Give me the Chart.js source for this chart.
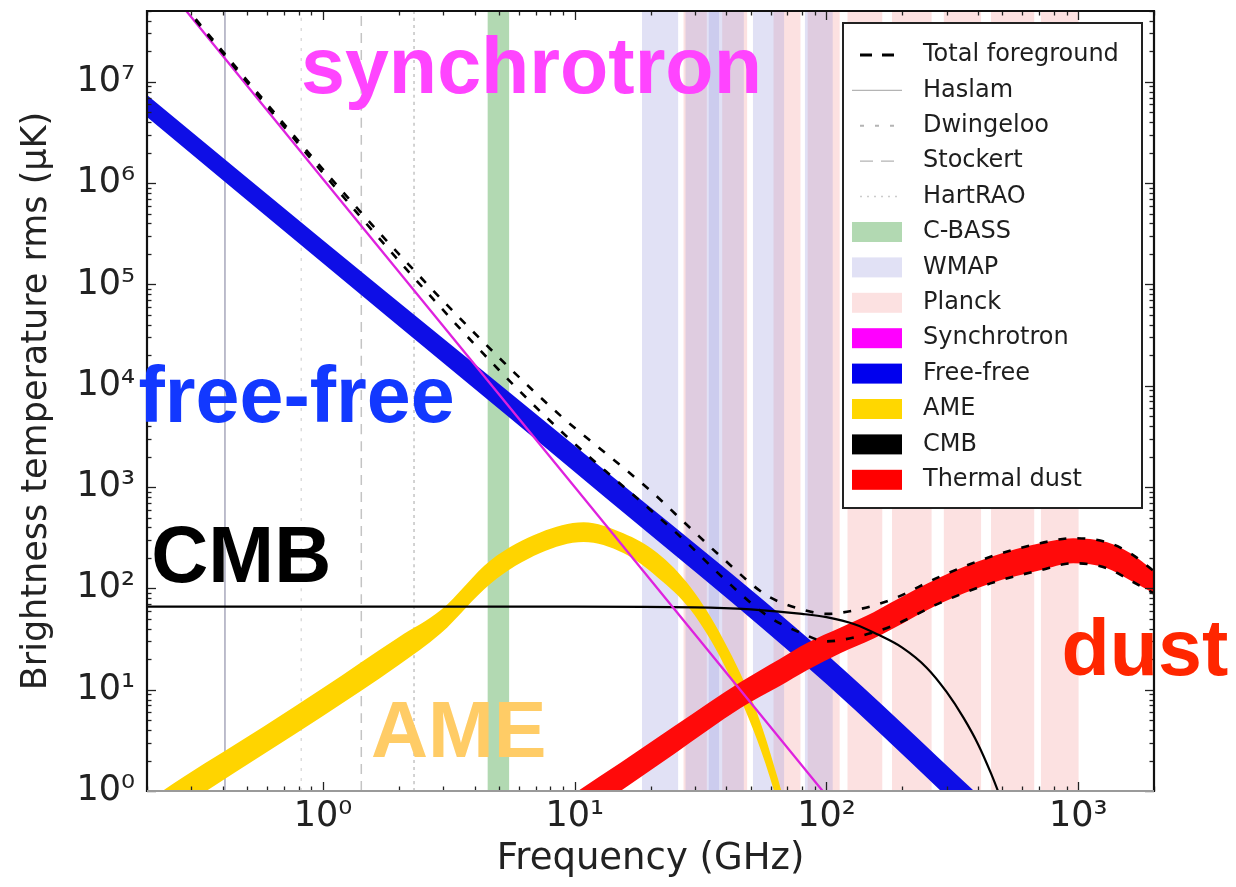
<!DOCTYPE html>
<html>
<head>
<meta charset="utf-8">
<script src="https://cdn.jsdelivr.net/npm/chart.js@4.4.1/dist/chart.umd.min.js"></script>
<style>
  html, body { margin: 0; padding: 0; background: #fff; }
  canvas { display: block; }
</style>
</head>
<body>
<canvas id="chart" width="1236" height="887"></canvas>
<script>
// ---- axes ----
const X_MIN = 0.2, X_MAX = 2000;          // GHz
const Y_MIN = 1, Y_MAX = 5e7;             // microkelvin
const X_TICKS = [1, 10, 100, 1000];
const Y_TICKS = [1, 10, 100, 1e3, 1e4, 1e5, 1e6, 1e7];

// ---- radio surveys (GHz) ----
const surveyNames = ['Haslam', 'Dwingeloo', 'Stockert', 'HartRAO'];
const surveyFreq = [0.408, 0.82, 1.42, 2.3];
const cbassBand = [4.5, 5.5];
const wmapBands = [[18.5, 25.8], [27.5, 37.5], [34, 47], [51, 68], [82, 106]];
const planckBands = [[27, 33.5], [38.5, 48.5], [61.5, 79], [84, 113], [121, 167],
                     [182, 262], [292, 412], [450, 670], [710, 1005]];

// ---- foreground components: rms brightness temperature (uK) ----
const syncFreq = [0.2, 1, 10, 100];
const syncT = [1.5e8, 1.1e6, 1000, 0.9];

const ffFreq = [0.2, 1, 10, 100, 400];
const ffHigh = [7.4e6, 2.73e5, 2560, 22.4, 0.92];
const ffLow = [4.5e6, 1.62e5, 1410, 11.4, 0.45];

const ameFreq = [0.2, 0.28, 0.58, 1, 2, 2.94, 4.64, 7.3, 10.85, 15.6, 21.3, 28.9, 39, 53, 64, 75];
const ameHigh = [0.79, 1.38, 4.3, 10.4, 33, 61, 190, 357, 450, 350, 223, 102, 31, 5.9, 1.35, 0.3];
const ameLow = [0.42, 0.72, 2.3, 5.5, 17.5, 36, 112, 223, 287, 223, 129, 61, 18, 3.2, 0.75, 0.15];

const cmbFreq = [0.2, 10, 30, 50, 80, 100, 130, 160, 200, 250, 300, 350, 400, 450, 500];
const cmbT = [66, 66, 65, 62, 56, 52, 44, 35, 26, 16.5, 9.5, 5.3, 2.9, 1.5, 0.77];

const dustFreq = [8, 10.3, 15.2, 25, 45.6, 65, 84, 114, 154, 180, 283, 448, 706, 955, 1303, 1607, 2000];
const dustHigh = [0.65, 1.0, 1.9, 4.4, 11.9, 20, 29, 41, 58, 72, 129, 204, 279, 313, 285, 223, 148];
const dustLow = [0.33, 0.51, 1.0, 2.35, 6.6, 10.8, 15.6, 23, 32, 39, 71, 112, 151, 177, 158, 120, 89];

const totFreq = [0.2, 0.5, 1, 2, 5, 9, 13.3, 20, 28, 39, 58, 80, 100, 130, 180, 283, 448, 706, 955, 1303, 1607, 2000];
const totHigh = [1.57e8, 1.03e7, 1.37e6, 2.0e5, 1.9e4, 4800, 2150, 920, 420, 195, 85, 62, 56, 61, 77, 131, 205, 279, 313, 285, 223, 148];
const totLow = [1.545e8, 9.85e6, 1.26e6, 1.72e5, 1.43e4, 3400, 1430, 595, 280, 126, 54, 36, 30, 33, 42, 72, 112, 151, 177, 158, 120, 89];

// ---- big component captions: text, anchor frequency (GHz), anchor temperature (uK) ----
const captionText = ['synchrotron', 'free-free', 'CMB', 'AME', 'dust'];
const captionFreq = [0.818, 0.185, 0.208, 1.55, 859];
const captionTemp = [7.8e6, 4350, 115, 2.16, 13.9];
const captionColor = ['#ff44ff', '#1238ff', '#000000', '#ffcc66', '#ff2600'];

// ---- colours ----
const WMAP_FILL = 'rgba(155,155,222,0.3)';
const PLANCK_FILL = 'rgba(245,155,155,0.3)';
const CBASS_FILL = 'rgba(0,128,0,0.3)';
const SYNC_COLOR = '#de22de';
const FF_COLOR = '#0e0ee6';
const AME_COLOR = '#ffd400';
const DUST_COLOR = '#ff0a0a';
const surveyStyle = [
  { color: 'rgba(120,120,150,0.65)', width: 1.5, dash: [] },
  { color: '#dcdcdc', width: 1.5, dash: [3, 7] },
  { color: '#c4c4c4', width: 1.5, dash: [10, 7] },
  { color: '#c4c4c4', width: 1.5, dash: [3, 4] }
];

const legendItems = [
  { label: 'Total foreground', line: { color: '#000', width: 3, dash: [12, 10] } },
  { label: 'Haslam', line: { color: '#b4b4b4', width: 1.2, dash: [] } },
  { label: 'Dwingeloo', line: { color: '#b4b4b4', width: 2, dash: [4, 11] } },
  { label: 'Stockert', line: { color: '#b4b4b4', width: 1.2, dash: [13, 8] } },
  { label: 'HartRAO', line: { color: '#cccccc', width: 1.5, dash: [2, 5] } },
  { label: 'C-BASS', patch: CBASS_FILL },
  { label: 'WMAP', patch: WMAP_FILL },
  { label: 'Planck', patch: PLANCK_FILL },
  { label: 'Synchrotron', patch: '#ff00ff' },
  { label: 'Free-free', patch: '#0000ee' },
  { label: 'AME', patch: '#ffd700' },
  { label: 'CMB', patch: '#000000' },
  { label: 'Thermal dust', patch: '#ff0000' }
];

// ---- helpers ----
const pts = (xs, ys) => xs.map((x, i) => ({ x, y: ys[i] }));
const SUP = '⁰¹²³⁴⁵⁶⁷⁸⁹';
const powerLabel = v => '10' + String(Math.round(Math.log10(v))).split('').map(c => SUP[+c]).join('');

const datasets = [];

function spanSet(label, lo, hi, color) {
  datasets.push({ label, data: [{ x: lo, y: Y_MAX }, { x: hi, y: Y_MAX }],
    fill: 'start', backgroundColor: color, borderWidth: 0, order: 100 });
}
function rangeSet(label, xs, hi, lo, color, order) {
  datasets.push({ label, data: pts(xs, hi), fill: '+1', backgroundColor: color,
    borderWidth: 0, order });
  datasets.push({ label: label + ' lower', data: pts(xs, lo), fill: false,
    borderWidth: 0, order });
}

wmapBands.forEach(b => spanSet('WMAP', b[0], b[1], WMAP_FILL));
planckBands.forEach(b => spanSet('Planck', b[0], b[1], PLANCK_FILL));
spanSet('C-BASS', cbassBand[0], cbassBand[1], CBASS_FILL);

surveyFreq.forEach((f, i) => {
  datasets.push({ label: surveyNames[i], data: [{ x: f, y: Y_MIN }, { x: f, y: Y_MAX }],
    borderColor: surveyStyle[i].color, borderWidth: surveyStyle[i].width,
    borderDash: surveyStyle[i].dash, fill: false, order: 90 });
});

rangeSet('Free-free', ffFreq, ffHigh, ffLow, FF_COLOR, 6);
rangeSet('AME', ameFreq, ameHigh, ameLow, AME_COLOR, 5);
rangeSet('Thermal dust', dustFreq, dustHigh, dustLow, DUST_COLOR, 4);

datasets.push({ label: 'CMB', data: pts(cmbFreq, cmbT), borderColor: '#000',
  borderWidth: 2.2, fill: false, order: 3 });
datasets.push({ label: 'Synchrotron', data: pts(syncFreq, syncT), borderColor: SYNC_COLOR,
  borderWidth: 2.3, fill: false, order: 2 });
datasets.push({ label: 'Total foreground', data: pts(totFreq, totHigh), borderColor: '#000',
  borderWidth: 2.6, borderDash: [8, 11], fill: false, order: 1 });
datasets.push({ label: 'Total foreground lower', data: pts(totFreq, totLow), borderColor: '#000',
  borderWidth: 2.6, borderDash: [8, 11], fill: false, order: 1 });

// inward ticks on all four sides plus the frame
const frameTicks = {
  id: 'frameTicks',
  afterDatasetsDraw(chart) {
    const { ctx, chartArea: a, scales: { x, y } } = chart;
    const seg = (x1, y1, x2, y2) => { ctx.beginPath(); ctx.moveTo(x1, y1); ctx.lineTo(x2, y2); ctx.stroke(); };
    ctx.save();
    ctx.strokeStyle = '#222';
    ctx.lineWidth = 1.3;
    for (let e = -1; e <= 3; e++) {
      for (let m = 1; m <= 9; m++) {
        const v = m * Math.pow(10, e);
        if (v < X_MIN || v > X_MAX) continue;
        const p = Math.round(x.getPixelForValue(v)) + 0.5;
        const len = m === 1 ? 9 : 4.5;
        seg(p, a.bottom, p, a.bottom - len);
        seg(p, a.top, p, a.top + len);
      }
    }
    for (let e = 0; e <= 7; e++) {
      for (let m = 1; m <= 9; m++) {
        const v = m * Math.pow(10, e);
        if (v < Y_MIN || v > Y_MAX) continue;
        const p = Math.round(y.getPixelForValue(v)) + 0.5;
        const len = m === 1 ? 9 : 4.5;
        seg(a.left, p, a.left + len, p);
        seg(a.right, p, a.right - len, p);
      }
    }
    ctx.lineWidth = 2.2;
    ctx.strokeStyle = '#111';
    seg(a.left, a.top, a.right, a.top);
    seg(a.left, a.top - 1, a.left, a.bottom + 1);
    seg(a.right, a.top - 1, a.right, a.bottom + 1);
    ctx.strokeStyle = '#9a9a9a';
    seg(a.left, a.bottom, a.right, a.bottom);
    ctx.restore();
  }
};

// legend box in the upper right of the plot, then the big captions
const legendAndCaptions = {
  id: 'legendAndCaptions',
  afterDraw(chart) {
    const { ctx, chartArea: a, scales: { x, y } } = chart;
    ctx.save();
    const bw = 299, bh = 485;
    const bx = a.right - 12 - bw, by = a.top + 12;
    ctx.fillStyle = '#fff';
    ctx.fillRect(bx, by, bw, bh);
    ctx.strokeStyle = '#222';
    ctx.lineWidth = 2;
    ctx.strokeRect(bx, by, bw, bh);
    ctx.font = "24px 'DejaVu Sans'";
    ctx.textBaseline = 'middle';
    ctx.textAlign = 'left';
    legendItems.forEach((it, i) => {
      const cy = by + 32 + i * 35.4;
      if (it.patch) {
        ctx.fillStyle = it.patch;
        ctx.fillRect(bx + 9, cy - 10, 50, 20);
      } else {
        ctx.strokeStyle = it.line.color;
        ctx.lineWidth = it.line.width;
        ctx.setLineDash(it.line.dash);
        ctx.beginPath();
        ctx.moveTo(bx + (it.line.dash.length ? 17 : 9), cy);
        ctx.lineTo(bx + 59, cy);
        ctx.stroke();
        ctx.setLineDash([]);
      }
      ctx.fillStyle = '#1e1e1e';
      ctx.fillText(it.label, bx + 80, cy);
    });

    ctx.font = "bold 79px 'Liberation Sans'";
    ctx.textBaseline = 'alphabetic';
    captionText.forEach((t, i) => {
      ctx.fillStyle = captionColor[i];
      ctx.fillText(t, x.getPixelForValue(captionFreq[i]), y.getPixelForValue(captionTemp[i]));
    });
    ctx.restore();
  }
};

new Chart(document.getElementById('chart'), {
  type: 'line',
  data: { datasets },
  options: {
    responsive: false,
    animation: false,
    devicePixelRatio: 1,
    parsing: true,
    layout: { padding: { left: 0, right: 82, top: 11, bottom: 0 } },
    elements: {
      point: { radius: 0, hoverRadius: 0 },
      line: { cubicInterpolationMode: 'monotone', capBezierPoints: false, borderCapStyle: 'butt' }
    },
    datasets: { line: { clip: 0 } },
    plugins: { legend: { display: false }, tooltip: { enabled: false } },
    scales: {
      x: {
        type: 'logarithmic', min: X_MIN, max: X_MAX,
        afterBuildTicks: s => { s.ticks = X_TICKS.map(v => ({ value: v, major: true })); },
        afterFit: s => { s.height = 96; s.paddingLeft = 0; s.paddingRight = 0; },
        grid: { display: false, drawTicks: false },
        border: { display: false },
        ticks: { callback: v => powerLabel(v), autoSkip: false, maxRotation: 0,
                 font: { family: 'DejaVu Sans', size: 35 }, color: '#222', padding: 5 },
        title: { display: true, text: 'Frequency (GHz)', color: '#222',
                 font: { family: 'DejaVu Sans', size: 37 }, padding: { top: 0, bottom: 5 } }
      },
      y: {
        type: 'logarithmic', min: Y_MIN, max: Y_MAX,
        afterBuildTicks: s => { s.ticks = Y_TICKS.map(v => ({ value: v, major: true })); },
        afterFit: s => { s.width = 147; s.paddingTop = 0; s.paddingBottom = 0; },
        grid: { display: false, drawTicks: false },
        border: { display: false },
        ticks: { callback: v => powerLabel(v), autoSkip: false,
                 font: { family: 'DejaVu Sans', size: 35 }, color: '#222', padding: 12 },
        title: { display: true, text: 'Brightness temperature rms (μK)', color: '#222',
                 font: { family: 'DejaVu Sans', size: 35 }, padding: { top: 16, bottom: 0 } }
      }
    }
  },
  plugins: [frameTicks, legendAndCaptions]
});
</script>
</body>
</html>
